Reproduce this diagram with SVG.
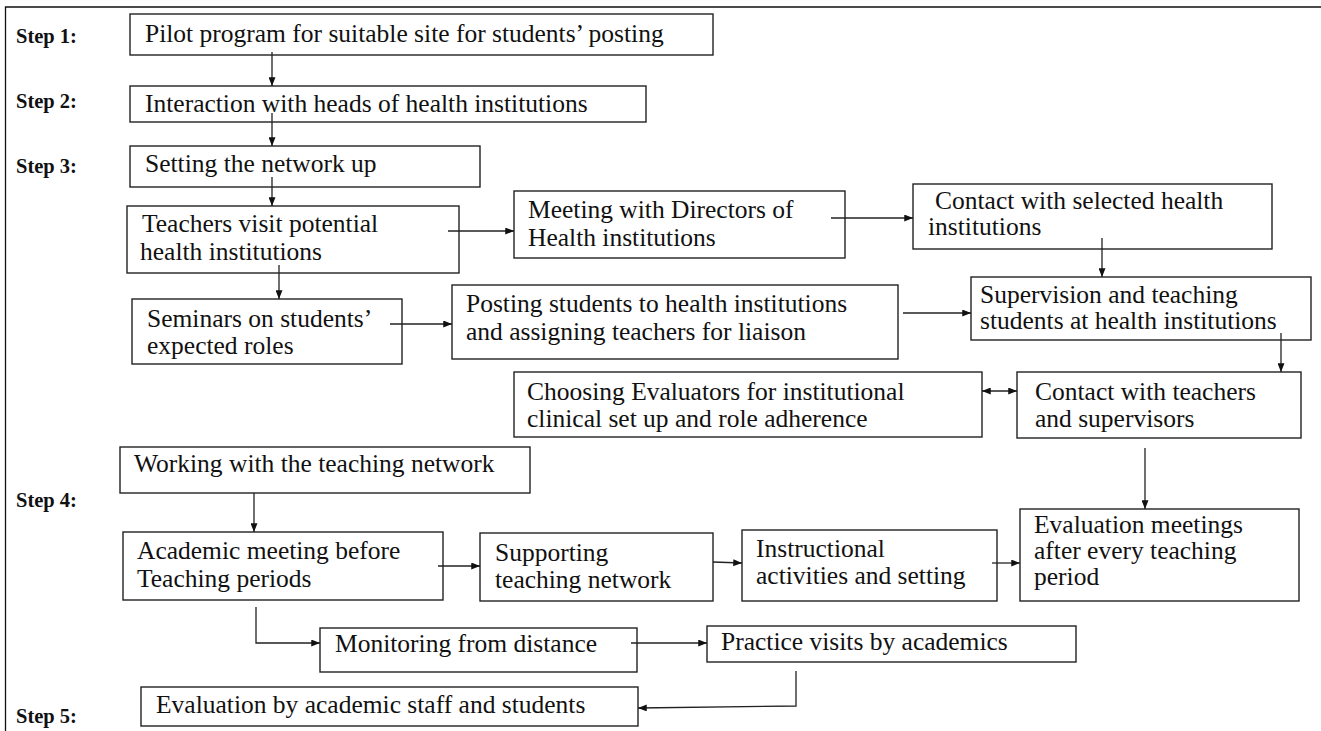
<svg xmlns="http://www.w3.org/2000/svg" width="1321" height="731" viewBox="0 0 1321 731">
<style>
.bg{fill:#ffffff}
.frame{fill:none;stroke:#111;stroke-width:1.3}
.box{fill:#ffffff;stroke:#222;stroke-width:1.4}
.t{font-family:"Liberation Serif","Times New Roman",serif;font-size:25.5px;fill:#111}
.step{font-family:"Liberation Serif","Times New Roman",serif;font-size:20.5px;font-weight:bold;fill:#111}
.c{fill:none;stroke:#222;stroke-width:1.3;marker-end:url(#ah)}
.dbl{marker-start:url(#ah)}
</style>
<defs>
<marker id="ah" viewBox="0 0 10 8" refX="10" refY="4" markerWidth="9" markerHeight="7" orient="auto-start-reverse" markerUnits="userSpaceOnUse">
<path d="M0,0 L10,4 L0,8 z" fill="#111"/>
</marker>
</defs>
<rect class="bg" x="0" y="0" width="1321" height="731"/>
<path class="frame" d="M5.5,731 V7 H1321"/>

<g id="step-labels">
<text class="step" x="16" y="43">Step 1:</text>
<text class="step" x="16" y="108">Step 2:</text>
<text class="step" x="16" y="173">Step 3:</text>
<text class="step" x="16" y="507">Step 4:</text>
<text class="step" x="16" y="723">Step 5:</text>
</g>

<g id="pilot"><rect class="box" x="130" y="14" width="583" height="41"/>
<text class="t" x="145" y="42">Pilot program for suitable site for students’ posting</text></g>

<g id="interaction"><rect class="box" x="130" y="86" width="516" height="36"/>
<text class="t" x="145" y="112">Interaction with heads of health institutions</text></g>

<g id="setting"><rect class="box" x="130" y="146" width="350" height="41"/>
<text class="t" x="145" y="172">Setting the network up</text></g>

<g id="teachers-visit"><rect class="box" x="127" y="206" width="332" height="67"/>
<text class="t" x="142" y="232">Teachers visit potential</text>
<text class="t" x="140" y="260">health institutions</text></g>

<g id="meeting-directors"><rect class="box" x="514" y="191" width="331" height="67"/>
<text class="t" x="528" y="218">Meeting with Directors of</text>
<text class="t" x="528" y="246">Health institutions</text></g>

<g id="contact-selected"><rect class="box" x="913" y="184" width="359" height="65"/>
<text class="t" x="935" y="209">Contact with selected health</text>
<text class="t" x="928" y="235">institutions</text></g>

<g id="seminars"><rect class="box" x="132" y="299" width="270" height="65"/>
<text class="t" x="147" y="327">Seminars on students’</text>
<text class="t" x="147" y="354">expected roles</text></g>

<g id="posting"><rect class="box" x="452" y="285" width="446" height="74"/>
<text class="t" x="466" y="312">Posting students to health institutions</text>
<text class="t" x="466" y="340">and assigning teachers for liaison</text></g>

<g id="supervision"><rect class="box" x="971" y="277" width="340" height="63"/>
<text class="t" x="980" y="303">Supervision and teaching</text>
<text class="t" x="980" y="329">students at health institutions</text></g>

<g id="choosing-evaluators"><rect class="box" x="514" y="372" width="468" height="65"/>
<text class="t" x="527" y="400">Choosing Evaluators for institutional</text>
<text class="t" x="527" y="427">clinical set up and role adherence</text></g>

<g id="contact-teachers"><rect class="box" x="1017" y="372" width="284" height="66"/>
<text class="t" x="1035" y="400">Contact with teachers</text>
<text class="t" x="1035" y="427">and supervisors</text></g>

<g id="working"><rect class="box" x="120" y="447" width="410" height="46"/>
<text class="t" x="134" y="472">Working with the teaching network</text></g>

<g id="academic-meeting"><rect class="box" x="123" y="532" width="320" height="68"/>
<text class="t" x="137" y="559">Academic meeting before</text>
<text class="t" x="137" y="587">Teaching periods</text></g>

<g id="supporting"><rect class="box" x="480" y="533" width="233" height="68"/>
<text class="t" x="495" y="561">Supporting</text>
<text class="t" x="495" y="588">teaching network</text></g>

<g id="instructional"><rect class="box" x="742" y="530" width="255" height="71"/>
<text class="t" x="756" y="557">Instructional</text>
<text class="t" x="756" y="584">activities and setting</text></g>

<g id="evaluation-meetings"><rect class="box" x="1020" y="509" width="279" height="92"/>
<text class="t" x="1034" y="533">Evaluation meetings</text>
<text class="t" x="1034" y="559">after every teaching</text>
<text class="t" x="1034" y="585">period</text></g>

<g id="monitoring"><rect class="box" x="320" y="628" width="317" height="44"/>
<text class="t" x="335" y="652">Monitoring from distance</text></g>

<g id="practice-visits"><rect class="box" x="707" y="626" width="369" height="36"/>
<text class="t" x="721" y="650">Practice visits by academics</text></g>

<g id="evaluation-by"><rect class="box" x="141" y="687" width="497" height="39"/>
<text class="t" x="156" y="713">Evaluation by academic staff and students</text></g>

<g id="connectors">
<path class="c" d="M272,52 V86"/>
<path class="c" d="M272,113 V146"/>
<path class="c" d="M272,177 V206"/>
<path class="c" d="M279,265 V299"/>
<path class="c" d="M448,231 H514"/>
<path class="c" d="M831,218 H913"/>
<path class="c" d="M390,324 H452"/>
<path class="c" d="M903,313 H971"/>
<path class="c" d="M1102,238 V277"/>
<path class="c" d="M1281,333 V372"/>
<path class="c dbl" d="M982,391 H1017"/>
<path class="c" d="M1145,448 V509"/>
<path class="c" d="M254,493 V532"/>
<path class="c" d="M438,566 H480"/>
<path class="c" d="M713,562 L742,563"/>
<path class="c" d="M992,563 H1020"/>
<path class="c" d="M256,607 V643 H320"/>
<path class="c" d="M631,643 H707"/>
<path class="c" d="M796,671 V706 L638,708"/>
</g>
</svg>
